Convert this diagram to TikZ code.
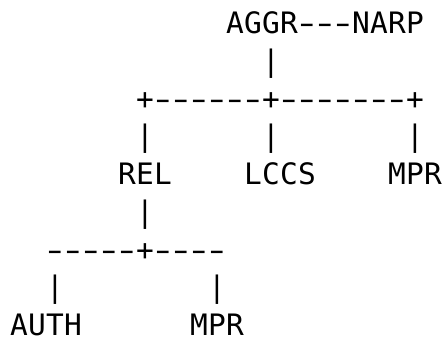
\documentclass[tikz,border=0pt]{standalone}
\usepackage{fontspec}
\usepackage{graphicx}
\newfontfamily\asciifam{DejaVu Sans Mono}
\newcommand\asciisize{\asciifam\fontsize{29.5}{35}\selectfont}
% typeset each character in a fixed 18pt cell; dashes drawn wide as in the reference
\def\cells#1{\cellloop#1\relax}
\def\cellloop#1{\ifx#1\relax\else
  \if-#1\makebox[18pt][c]{\scalebox{1.55}[1]{-}}\else\makebox[18pt][c]{#1}\fi
  \expandafter\cellloop\fi}
\tikzset{
  ascii/.style={anchor=base west, inner sep=0pt, outer sep=0pt, font=\asciisize}
}
\begin{document}
\begin{tikzpicture}[x=1pt,y=1pt]
\useasboundingbox (0,0) rectangle (443,-337);
% line baselines: 33.8 + 37.7 i
\node[ascii] (top)   at (10+18*12, -33.8)  {\cells{AGGR---NARP}};
\node[ascii] (v1)    at (10+18*14, -71.5)  {\cells{|}};
\node[ascii] (bar1)  at (10+18*7,  -109.2) {\cells{+------+-------+}};
\node[ascii] (v2a)   at (10+18*7,  -146.9) {\cells{|}};
\node[ascii] (v2b)   at (10+18*14, -146.9) {\cells{|}};
\node[ascii] (v2c)   at (10+18*22, -146.9) {\cells{|}};
\node[ascii] (rel)   at (10+18*6,  -184.6) {\cells{REL}};
\node[ascii] (lccs)  at (10+18*13, -184.6) {\cells{LCCS}};
\node[ascii] (mpr1)  at (10+18*21, -184.6) {\cells{MPR}};
\node[ascii] (v3)    at (10+18*7,  -222.3) {\cells{|}};
\node[ascii] (bar2)  at (10+18*2,  -260.0) {\cells{-----+----}};
\node[ascii] (v4a)   at (10+18*2,  -297.7) {\cells{|}};
\node[ascii] (v4b)   at (10+18*11, -297.7) {\cells{|}};
\node[ascii] (auth)  at (10+18*0,  -335.4) {\cells{AUTH}};
\node[ascii] (mpr2)  at (10+18*10, -335.4) {\cells{MPR}};
\end{tikzpicture}
\end{document}
